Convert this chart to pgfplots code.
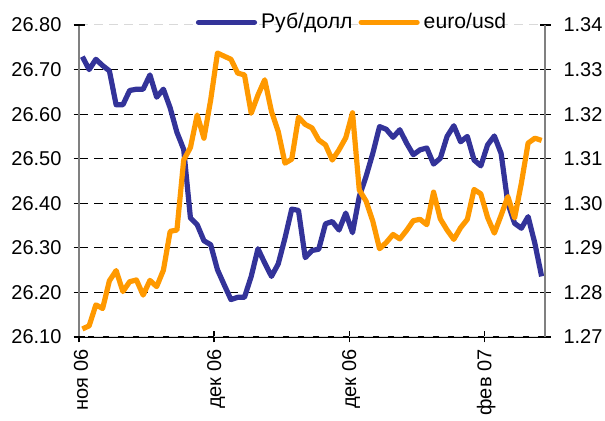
\documentclass[border=0pt]{standalone}
\usepackage{fontspec}
\setmainfont{Liberation Sans}
\usepackage{pgfplots}
\pgfplotsset{compat=1.18}
\definecolor{rubblue}{HTML}{333399}
\definecolor{eurorange}{HTML}{FF9900}
\pgfplotstableread{
i rub
0 26.729
1 26.700
2 26.723
3 26.709
4 26.697
5 26.621
6 26.621
7 26.653
8 26.656
9 26.656
10 26.688
11 26.638
12 26.656
13 26.614
14 26.559
15 26.521
16 26.367
17 26.352
18 26.316
19 26.307
20 26.251
21 26.217
22 26.184
23 26.189
24 26.189
25 26.236
26 26.298
27 26.266
28 26.236
29 26.264
30 26.322
31 26.387
32 26.384
33 26.278
34 26.294
35 26.297
36 26.354
37 26.359
38 26.340
39 26.378
40 26.334
41 26.415
42 26.460
43 26.512
44 26.572
45 26.566
46 26.548
47 26.565
48 26.535
49 26.509
50 26.520
51 26.524
52 26.488
53 26.501
54 26.550
55 26.574
56 26.538
57 26.550
58 26.497
59 26.484
60 26.531
61 26.551
62 26.512
63 26.400
64 26.355
65 26.344
66 26.370
67 26.310
68 26.236
}\rubtable
\pgfplotstableread{
i eur
0 1.2718
1 1.2725
2 1.2772
3 1.2764
4 1.2826
5 1.2849
6 1.2802
7 1.2824
8 1.2828
9 1.2794
10 1.2827
11 1.2813
12 1.2850
13 1.2937
14 1.2940
15 1.3097
16 1.3125
17 1.3198
18 1.3146
19 1.3232
20 1.3337
21 1.3330
22 1.3323
23 1.3292
24 1.3288
25 1.3202
26 1.3243
27 1.3277
28 1.3206
29 1.3161
30 1.3090
31 1.3099
32 1.3193
33 1.3177
34 1.3169
35 1.3142
36 1.3131
37 1.3097
38 1.3120
39 1.3147
40 1.3203
41 1.3030
42 1.3005
43 1.2960
44 1.2898
45 1.2912
46 1.2930
47 1.2920
48 1.2939
49 1.2961
50 1.2964
51 1.2952
52 1.3025
53 1.2965
54 1.2940
55 1.2919
56 1.2945
57 1.2964
58 1.3031
59 1.3021
60 1.2968
61 1.2933
62 1.2973
63 1.3015
64 1.2967
65 1.3045
66 1.3135
67 1.3146
68 1.3141
}\eurtable
\pgfplotsset{
  common/.style={
    at={(39.5pt,42pt)}, anchor=south west,
    width=233pt, height=156pt, scale only axis,
    xmin=-0.5, xmax=68.5,
    tick align=center, major tick length=5.5pt,
    tick style={draw=black, line width=0.6pt},
    y axis line style={draw=gray, line width=0.7pt, -},
    x axis line style={draw=black, line width=0.7pt, -},
    /pgf/number format/assume math mode=true,
    tick label style={font=\fontsize{10}{12}\selectfont},
    yticklabel style={/pgf/number format/fixed, /pgf/number format/fixed zerofill, /pgf/number format/precision=2},
  }
}
\begin{document}
\fontsize{10}{12}\selectfont
\begin{tikzpicture}
\useasboundingbox (0,0) rectangle (302.5pt,210.5pt);
\begin{axis}[
  common,
  ymin=26.1, ymax=26.8,
  axis x line*=bottom, axis y line*=left,
  xtick={-0.5,19.5,39.5,59.5},
  xticklabels={ноя 06,дек 06,дек 06,фев 07},
  xticklabel style={rotate=90, anchor=east, yshift=-1pt},
  yticklabel style={xshift=-2.5pt},
  ytick={26.2,26.3,26.4,26.5,26.6,26.7},
  extra y ticks={26.1,26.8},
  extra y tick style={major grid style={draw=gray!30, dash pattern=on 4.5pt off 3pt, line width=0.5pt}},
  ymajorgrids,
  major grid style={draw=black, dash pattern=on 4.5pt off 3pt, line width=0.5pt},
  legend style={draw=none, fill=none, at={(0.25,1.0087)}, anchor=west,
    legend columns=2, inner sep=0pt, font=\fontsize{10.6}{12}\selectfont,
    /tikz/every even column/.append style={column sep=1pt}},
  legend image code/.code={\draw[#1, line cap=round] (0pt,0pt) -- (28pt,0pt);},
]
\addplot[rubblue, line width=2.6pt, line join=round] table[x=i, y=rub] {\rubtable};
\addlegendentry{Руб/долл}
\addlegendimage{eurorange, line width=2.6pt, line join=round}
\addlegendentry{euro/usd}
\end{axis}
\begin{axis}[
  common,
  ymin=1.27, ymax=1.34,
  axis y line*=right, axis x line=none,
  yticklabel style={xshift=3pt},
  ytick={1.27,1.28,1.29,1.30,1.31,1.32,1.33,1.34},
]
\addplot[eurorange, line width=2.6pt, line join=round] table[x=i, y=eur] {\eurtable};
\end{axis}
\end{tikzpicture}
\end{document}
